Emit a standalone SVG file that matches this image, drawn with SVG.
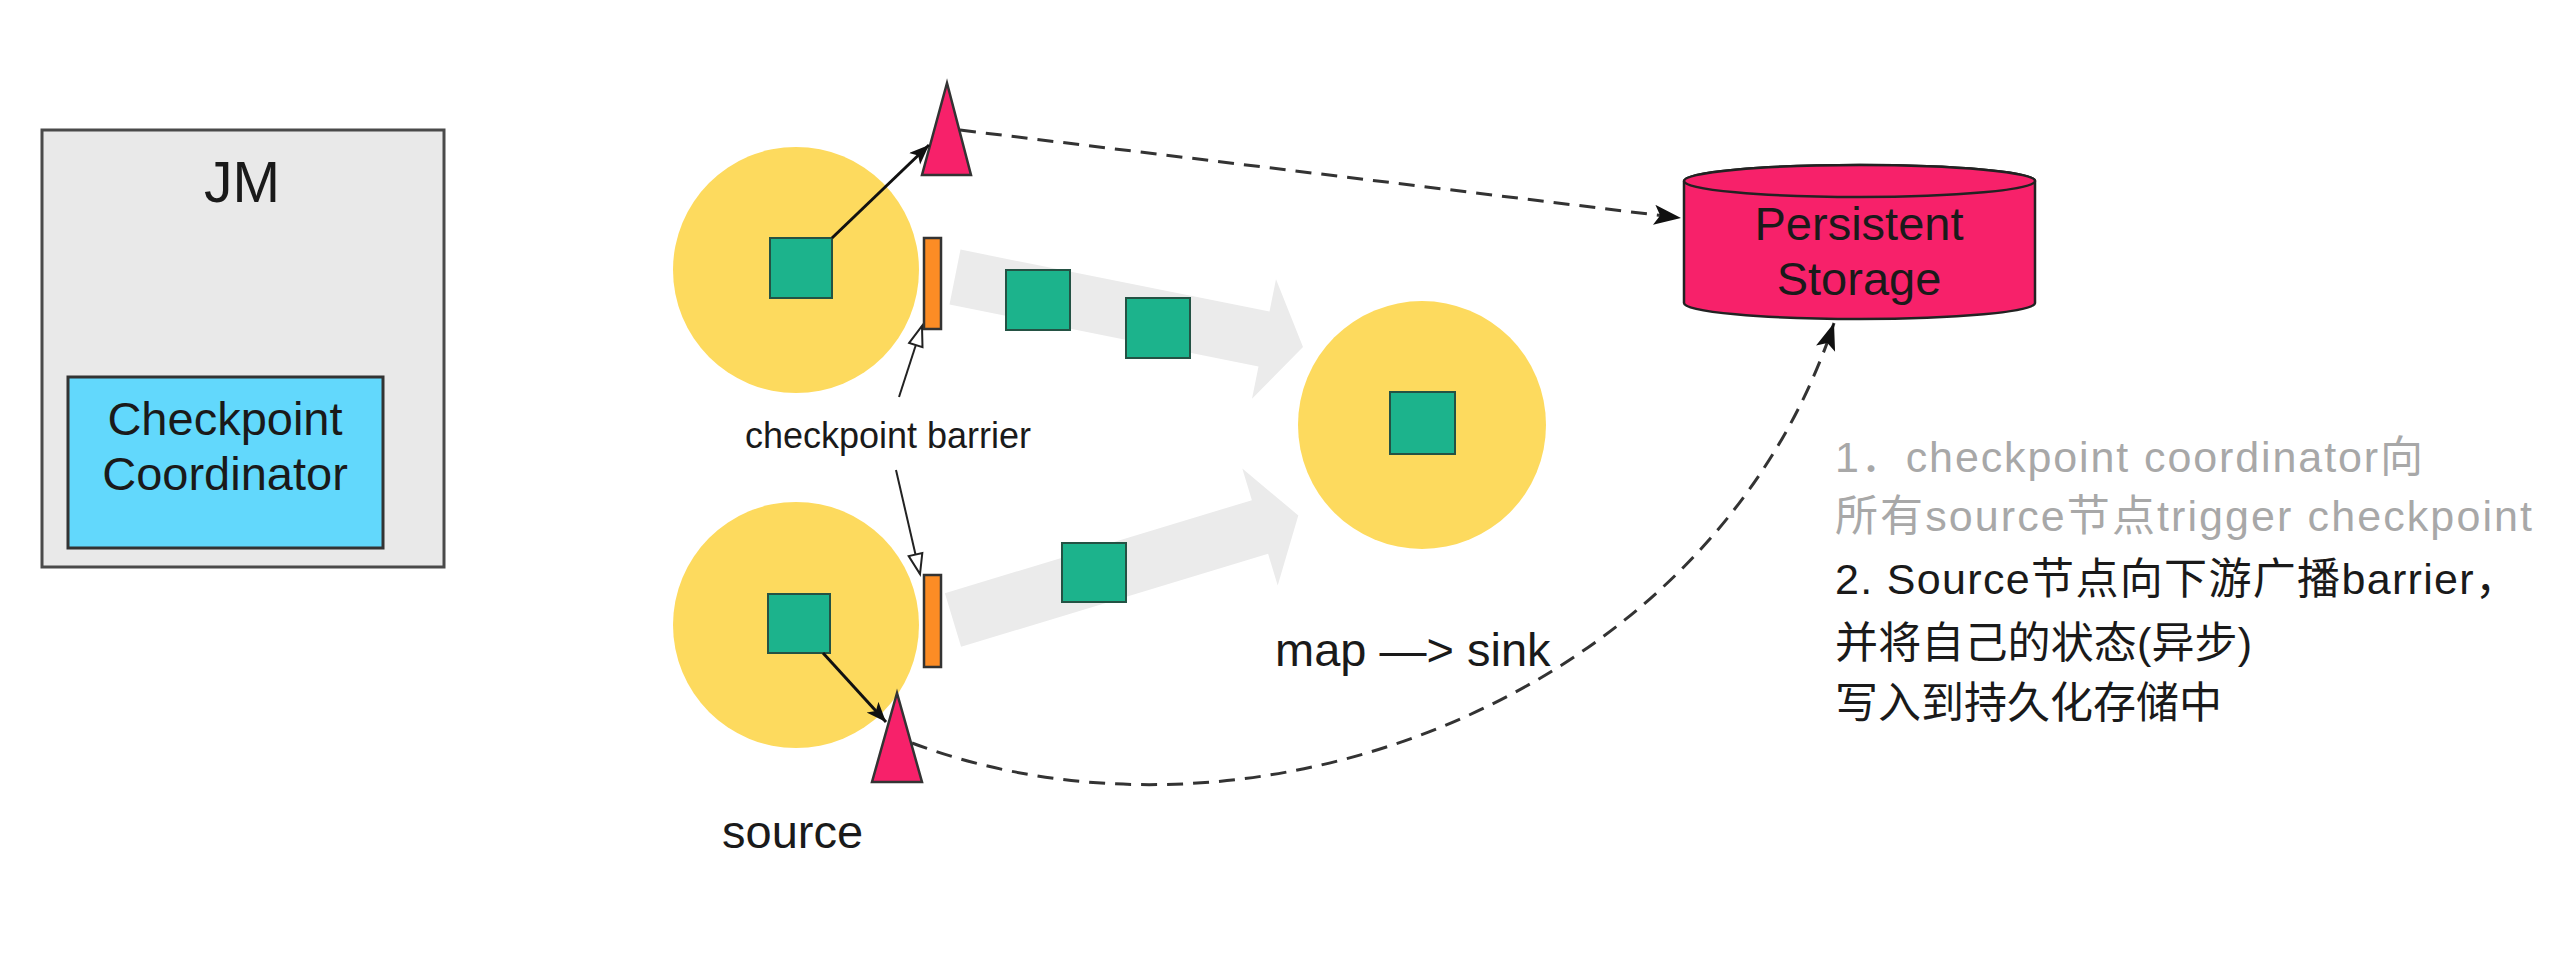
<svg xmlns="http://www.w3.org/2000/svg" width="2560" height="957" viewBox="0 0 2560 957">
<defs>
<style>
.lbl{font-family:"Liberation Sans","Noto Sans CJK SC",Arial,sans-serif;fill:#1a1a1a}
.note{font-family:"Liberation Sans","Noto Sans CJK SC",sans-serif;font-size:43px}
.g{fill:#a8a8a8}
.k{fill:#1a1a1a}
.op{fill:#fdda5e;stroke:none}
.rec{fill:#1cb38c;stroke:#245244;stroke-width:2}
.bar{fill:#fc8c25;stroke:#333;stroke-width:2.5}
.tri{fill:#f7216a;stroke:#333;stroke-width:2.5;stroke-linejoin:miter}
.band{fill:#ebebeb;stroke:none}
.dash{fill:none;stroke:#333;stroke-width:3;stroke-dasharray:16 10}
.solid{fill:none;stroke:#111;stroke-width:3}
.thin{fill:none;stroke:#222;stroke-width:2}
</style>
<marker id="ah" markerUnits="userSpaceOnUse" markerWidth="22" markerHeight="18" refX="20" refY="8" orient="auto" viewBox="0 0 22 18">
<path d="M0,0 L20,8 L0,16 L5,8 Z" fill="#111"/>
</marker>
<marker id="ahd" markerUnits="userSpaceOnUse" markerWidth="30" markerHeight="22" refX="27" refY="10" orient="auto" viewBox="0 0 30 22">
<path d="M0,0 L27,10 L0,20 L6,10 Z" fill="#111"/>
</marker>
<marker id="aho" markerUnits="userSpaceOnUse" markerWidth="26" markerHeight="22" refX="22" refY="9" orient="auto" viewBox="0 0 26 22">
<path d="M2,2 L22,9 L2,16 Z" fill="#fff" stroke="#222" stroke-width="2"/>
</marker>
</defs>
<rect width="2560" height="957" fill="#ffffff"/>

<g id="jm">
<rect x="42" y="130" width="402" height="437" fill="#e9e9e9" stroke="#4a4a4a" stroke-width="3"/>
<text class="lbl" x="242" y="202" font-size="57" text-anchor="middle">JM</text>
</g>
<g id="checkpoint-coordinator">
<rect x="68" y="377" width="315" height="171" fill="#62d8fc" stroke="#333" stroke-width="3"/>
<text class="lbl" x="225" y="435" font-size="47" text-anchor="middle">Checkpoint</text>
<text class="lbl" x="225" y="490" font-size="47" text-anchor="middle">Coordinator</text>
</g>

<g id="bands">
<polygon class="band" points="960.5,249.6 1269.5,311.6 1276,279.2 1303,347 1252,398.8 1258.5,366.4 949.5,304.4"/>
<polygon class="band" points="944.9,593.2 1251.9,500.2 1242.3,468.6 1298.3,515.4 1277.7,585.4 1268.1,553.8 961.1,646.8"/>
</g>

<g id="source-top">
<circle class="op" cx="796" cy="270" r="123"/>
<rect class="rec" x="770" y="238" width="62" height="60"/>
<rect class="bar" x="924" y="238" width="17" height="91"/>
</g>
<g id="source-bottom">
<circle class="op" cx="796" cy="625" r="123"/>
<rect class="rec" x="768" y="594" width="62" height="59"/>
<rect class="bar" x="924" y="575" width="17" height="92"/>
</g>
<g id="records">
<rect class="rec" x="1006" y="270" width="64" height="60"/>
<rect class="rec" x="1126" y="298" width="64" height="60"/>
<rect class="rec" x="1062" y="543" width="64" height="59"/>
</g>
<g id="map-sink">
<circle class="op" cx="1422" cy="425" r="124"/>
<rect class="rec" x="1390" y="392" width="65" height="62"/>
<text class="lbl" x="1275" y="666" font-size="47">map —&gt; sink</text>
</g>
<g id="state-top">
<polygon class="tri" points="947,83 971,175 922,175"/>
</g>
<g id="state-bottom">
<polygon class="tri" points="897,693 922,782 872,782"/>
</g>
<g id="storage">
<path d="M1684,181 L1684,303 A175.5,16 0 0 0 2035,303 L2035,181 A175.5,16 0 0 0 1684,181 Z" fill="#f7216a" stroke="#222" stroke-width="2.5"/>
<ellipse cx="1859.5" cy="181" rx="175.5" ry="16" fill="#f7216a" stroke="#222" stroke-width="2.5"/>
<text class="lbl" x="1859" y="240" font-size="47" text-anchor="middle">Persistent</text>
<text class="lbl" x="1859" y="295" font-size="47" text-anchor="middle">Storage</text>
</g>

<g id="connectors">
<line class="solid" x1="832" y1="238" x2="929" y2="145" marker-end="url(#ah)"/>
<line class="solid" x1="823" y1="653" x2="886" y2="722" marker-end="url(#ah)"/>
<line class="thin" x1="899" y1="397" x2="922" y2="326" marker-end="url(#aho)"/>
<line class="thin" x1="896" y1="470" x2="920" y2="574" marker-end="url(#aho)"/>
<path class="dash" d="M960,130 L1681,218" marker-end="url(#ahd)"/>
<path class="dash" d="M912,743 C1250,870 1710,700 1834,323" marker-end="url(#ahd)"/>
</g>

<g id="labels">
<text class="lbl" x="888" y="448" font-size="36" text-anchor="middle">checkpoint barrier</text>
<text class="lbl" x="722" y="848" font-size="47">source</text>
</g>

<g id="notes">
<text class="note g" x="1835" y="472" textLength="588" lengthAdjust="spacing">1．checkpoint coordinator向</text>
<text class="note g" x="1835" y="531" textLength="697" lengthAdjust="spacing">所有source节点trigger checkpoint</text>
<text class="note k" x="1835" y="594" textLength="683" lengthAdjust="spacing">2. Source节点向下游广播barrier，</text>
<text class="note k" x="1835" y="658" textLength="417" lengthAdjust="spacing">并将自己的状态(异步)</text>
<text class="note k" x="1835" y="718">写入到持久化存储中</text>
</g>
</svg>
